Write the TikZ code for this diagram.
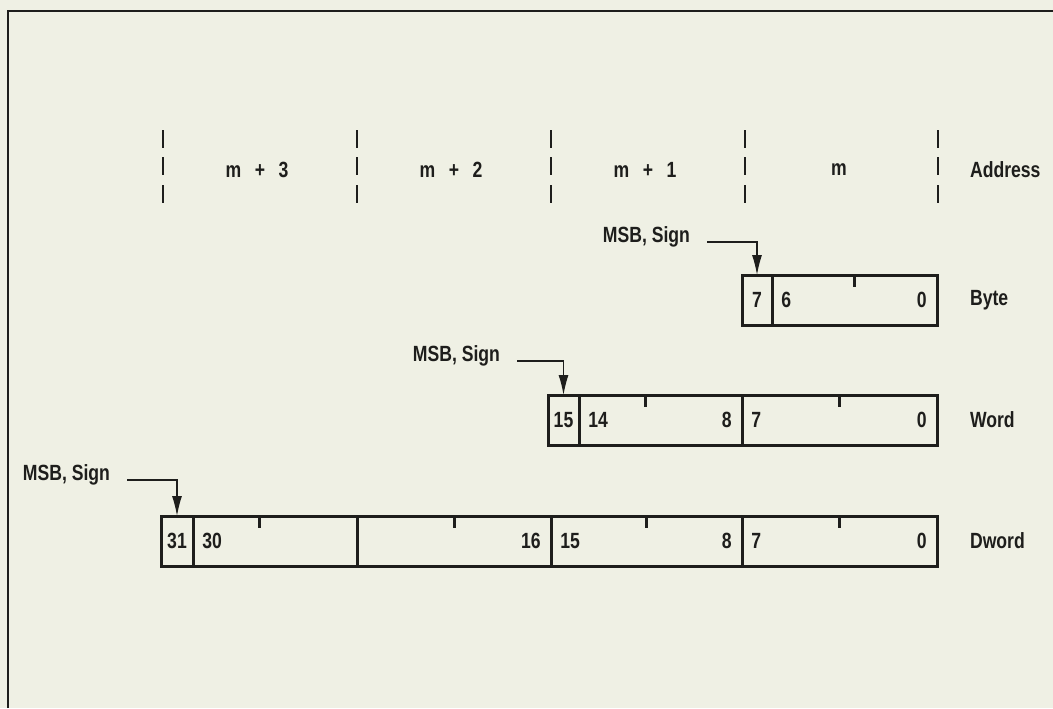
\documentclass[tikz,border=0pt]{standalone}
\usepackage{fontspec}
\setmainfont[FakeStretch=0.8]{Liberation Sans}
\usetikzlibrary{arrows.meta,positioning,calc}
\definecolor{paper}{RGB}{239,240,228}
\definecolor{ink}{RGB}{30,30,28}

\begin{document}
\begin{tikzpicture}[x=0.5pt,y=-0.5pt,
  every node/.style={text=ink,font=\bfseries\fontsize{11}{13}\selectfont},
  field/.style={draw=ink,line width=1.5pt,rectangle,inner sep=0pt,outer sep=0pt,
                minimum height=25pt,minimum width=#1*0.5pt,anchor=west},
  num/.style={inner sep=0pt},
  tick/.style={draw=ink,line width=1.5pt},
  adr/.style={draw=ink,line width=1pt},
  sgn/.style={draw=ink,line width=0.6pt,-{Latex[length=10pt,width=5pt]}}]
  \useasboundingbox (0,0) rectangle (1053,708);
  \fill[paper] (0,0) rectangle (1053,708);
  \draw[ink,line width=1.1pt] (8,708) -- (8,11) -- (1053,11);   % page frame

  % address row
  \foreach \x in {163,357,551,745,938}
    \foreach \y in {130,157,185}
      \draw[adr] (\x,\y) -- ++(0,18);
  \node (am3) at (257,170) {m \, + \, 3};
  \node (am2) at (451,170) {m \, + \, 2};
  \node (am1) at (645,170) {m \, + \, 1};
  \node (am0) at (839,170) {m};
  \node[anchor=west] (addr) at (963,170) {Address};

  % byte
  \node[field=30] (byS) at (742,300) {};
  \node[field=165,right=0pt of byS] (by0) {};
  \draw[tick] (by0.north) -- ++(0,12);
  \node[num] (byb7) at (byS) {7};
  \node[num,anchor=west] (byb6) at ([xshift=4.5pt]by0.west) {6};
  \node[num,anchor=east] (byb0) at ([xshift=-5pt]by0.east) {0};
  \node[right=13pt of by0] (byte) {Byte};
  \node[anchor=base east] (msbB) at (697,242) {MSB, Sign};
  \draw[sgn] ([xshift=5pt]msbB.base east) -| (byS.north);

  % word
  \node[field=31] (wdS) at (548,420) {};
  \node[field=163,right=0pt of wdS] (wd1) {};
  \node[field=195,right=0pt of wd1] (wd0) {};
  \draw[tick] ($(wdS.north west)!.5!(wd1.north east)$) -- ++(0,12);
  \draw[tick] (wd0.north) -- ++(0,12);
  \node[num] (wdb15) at (wdS) {15};
  \node[num,anchor=west] (wdb14) at ([xshift=4.5pt]wd1.west) {14};
  \node[num,anchor=east] (wdb8) at ([xshift=-5pt]wd1.east) {8};
  \node[num,anchor=west] (wdb7) at ([xshift=4.5pt]wd0.west) {7};
  \node[num,anchor=east] (wdb0) at ([xshift=-5pt]wd0.east) {0};
  \node[right=13pt of wd0] (word) {Word};
  \node[anchor=base east] (msbW) at (507,361) {MSB, Sign};
  \draw[sgn] ([xshift=5pt]msbW.base east) -| (wdS.north);

  % dword
  \node[field=32] (dwS) at (161,541) {};
  \node[field=164,right=0pt of dwS] (dw3) {};
  \node[field=194,right=0pt of dw3] (dw2) {};
  \node[field=191,right=0pt of dw2] (dw1) {};
  \node[field=195,right=0pt of dw1] (dw0) {};
  \draw[tick] ($(dwS.north west)!.5!(dw3.north east)$) -- ++(0,12);
  \foreach \f in {dw2,dw1,dw0}
    \draw[tick] (\f.north) -- ++(0,12);
  \node[num] (dwb31) at (dwS) {31};
  \node[num,anchor=west] (dwb30) at ([xshift=4.5pt]dw3.west) {30};
  \node[num,anchor=east] (dwb16) at ([xshift=-5pt]dw2.east) {16};
  \node[num,anchor=west] (dwb15) at ([xshift=4.5pt]dw1.west) {15};
  \node[num,anchor=east] (dwb8) at ([xshift=-5pt]dw1.east) {8};
  \node[num,anchor=west] (dwb7) at ([xshift=4.5pt]dw0.west) {7};
  \node[num,anchor=east] (dwb0) at ([xshift=-5pt]dw0.east) {0};
  \node[right=13pt of dw0] (dword) {Dword};
  \node[anchor=base east] (msbD) at (117,480) {MSB, Sign};
  \draw[sgn] ([xshift=5pt]msbD.base east) -| (dwS.north);
\end{tikzpicture}
\end{document}
